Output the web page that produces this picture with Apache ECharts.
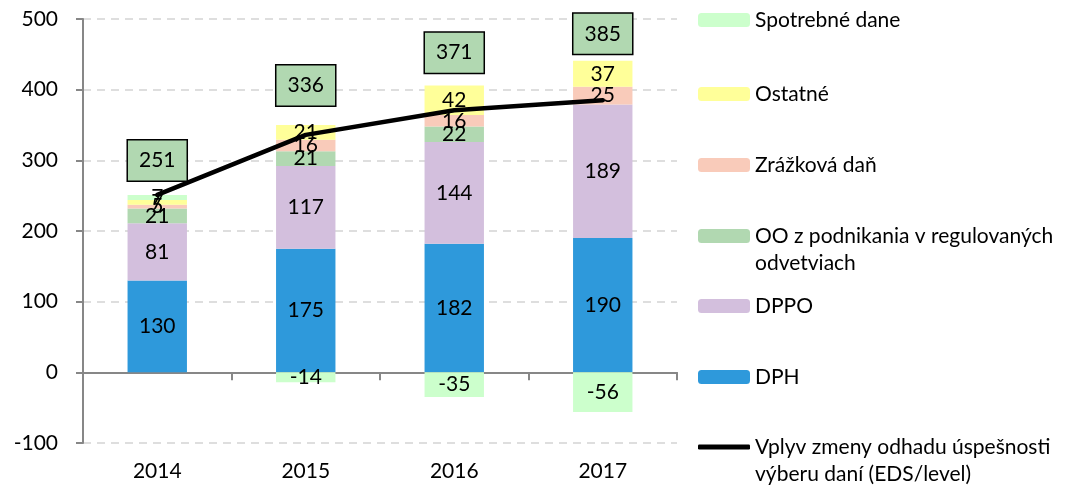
<!DOCTYPE html>
<html>
<head>
<meta charset="utf-8">
<script src="https://cdn.jsdelivr.net/npm/echarts@6/dist/echarts.min.js"></script>
<style>
  html, body { margin: 0; padding: 0; background: #fff; }
  #chart { width: 1085px; height: 488px; }
</style>
</head>
<body>
<div id="chart"></div>
<script>
// roky
var years = ['2014', '2015', '2016', '2017'];
// zlozky (mld.)
var dph = [130, 175, 182, 190];
var dppo = [81, 117, 144, 189];
var oo = [21, 21, 22, 0];
var zrazkova = [5, 16, 16, 25];
var ostatne = [7, 21, 42, 37];
var spotrebne = [7, -14, -35, -56];
// celkovy vplyv
var vplyv = [251, 336, 371, 385];
var yTicks = [-100, 0, 100, 200, 300, 400, 500];

var FONT = 'Lato';
var FS = 21;
var myChart = echarts.init(document.getElementById('chart'));

function barLabel() {
  return {
    show: true,
    position: 'inside',
    color: '#000',
    fontSize: FS,
    fontFamily: FONT,
    formatter: function (p) { return p.value === 0 ? '' : p.value; }
  };
}
function barSeries(name, data, color) {
  return {
    name: name,
    type: 'bar',
    stack: 'total',
    barWidth: '40%',
    data: data,
    itemStyle: { color: color },
    label: barLabel()
  };
}

// vyska stitkov nad ciarou
var liftDist = [14, 29, 37, 46];

function legendAt(name, center, opts) {
  opts = opts || {};
  var twoLines = name.indexOf('\n') >= 0;
  return {
    data: [opts.icon ? { name: name, icon: opts.icon } : name],
    left: 693,
    top: center - (twoLines ? 40.5 : 13.5) - 5,
    itemWidth: 52,
    itemHeight: opts.h || 14,
    itemGap: 0,
    itemStyle: { borderWidth: 0 },
    formatter: function (n) { return twoLines ? '\n' + n : n; },
    textStyle: {
      fontSize: FS,
      fontFamily: FONT,
      color: '#000',
      lineHeight: 27
    }
  };
}

var option = {
  animation: false,
  grid: { left: 83, right: 408, top: 19, bottom: 45 },
  legend: [
    legendAt('Spotrebné dane', 20),
    legendAt('Ostatné', 94),
    legendAt('Zrážková daň', 165),
    legendAt('OO z podnikania v regulovaných\nodvetviach', 236),
    legendAt('DPPO', 306),
    legendAt('DPH', 377),
    legendAt('Vplyv zmeny odhadu úspešnosti\nvýberu daní (EDS/level)', 447, { icon: 'roundRect', h: 5 })
  ],
  xAxis: [{
    type: 'category',
    data: years,
    position: 'bottom',
    axisLine: { onZero: false, show: false },
    axisTick: { show: false },
    axisLabel: { color: '#000', fontSize: FS, fontFamily: FONT, margin: 18 }
  }, {
    type: 'category',
    data: years,
    position: 'bottom',
    axisLine: { onZero: true, lineStyle: { color: '#878787', width: 2 } },
    axisTick: { show: true, length: 8, lineStyle: { color: '#878787', width: 2 } },
    axisLabel: { show: false }
  }],
  yAxis: {
    type: 'value',
    min: yTicks[0],
    max: yTicks[yTicks.length - 1],
    interval: 100,
    axisLine: { show: true, lineStyle: { color: '#878787', width: 2 } },
    axisTick: { show: true, length: 7, lineStyle: { color: '#878787', width: 2 } },
    axisLabel: { color: '#000', fontSize: FS, fontFamily: FONT, margin: 25 },
    splitLine: { lineStyle: { color: '#d4d4d4', type: [8, 6], width: 1.5 } }
  },
  series: [
    barSeries('DPH', dph, '#2e99db'),
    barSeries('DPPO', dppo, '#d3bfdd'),
    barSeries('OO z podnikania v regulovaných\nodvetviach', oo, '#b1d8b1'),
    barSeries('Zrážková daň', zrazkova, '#f9cbba'),
    barSeries('Ostatné', ostatne, '#ffff99'),
    barSeries('Spotrebné dane', spotrebne, '#ccffcc'),
    {
      name: 'Vplyv zmeny odhadu úspešnosti\nvýberu daní (EDS/level)',
      type: 'line',
      z: 5,
      symbol: 'circle',
      symbolSize: 1,
      showSymbol: true,
      lineStyle: { color: '#000', width: 4.5, cap: 'round' },
      itemStyle: { color: '#000' },
      data: vplyv.map(function (v, i) {
        return { value: v, label: { distance: liftDist[i] } };
      }),
      label: {
        show: true,
        position: 'top',
        color: '#000',
        fontSize: FS,
        fontFamily: FONT,
        lineHeight: 24,
        backgroundColor: '#b1d8b1',
        borderColor: '#000',
        borderWidth: 1.5,
        padding: [8, 11]
      }
    }
  ]
};
myChart.setOption(option);
window.onresize = myChart.resize;
</script>
</body>
</html>
